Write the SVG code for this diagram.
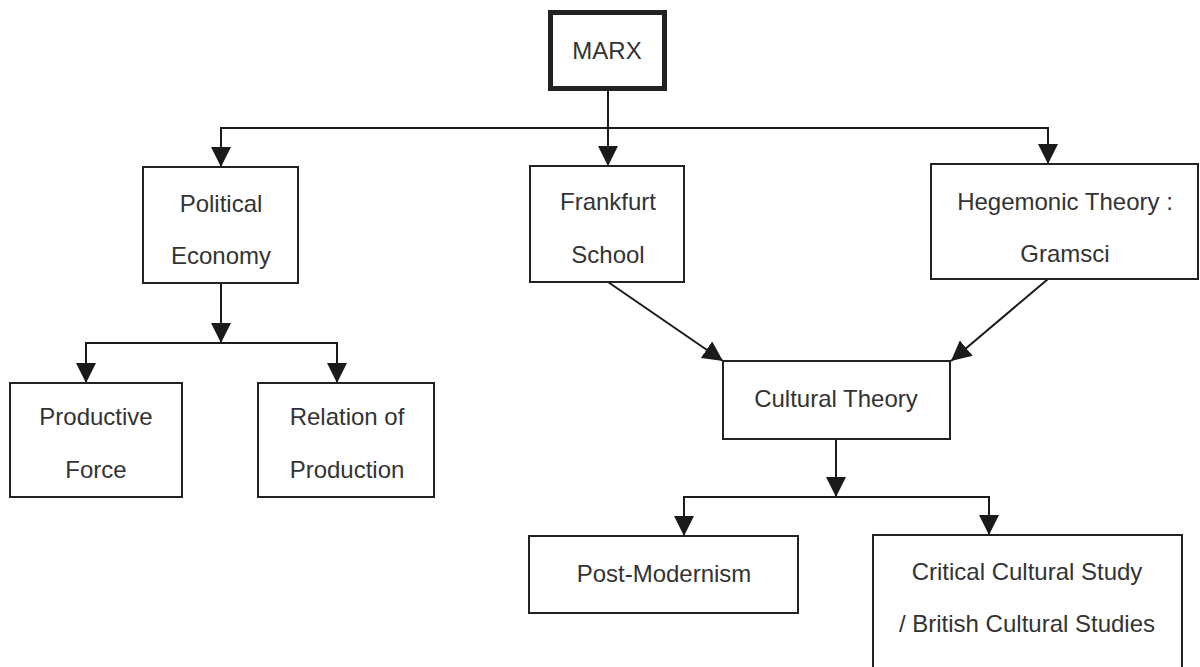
<svg xmlns="http://www.w3.org/2000/svg" width="1200" height="667" viewBox="0 0 1200 667">
  <defs>
    <marker id="arr" markerUnits="userSpaceOnUse" markerWidth="20" markerHeight="20" refX="20" refY="10" orient="auto">
      <path d="M0,0 L20,10 L0,20 z" fill="#1a1a1a"/>
    </marker>
    <style>
      .box { fill: #ffffff; stroke: #222; stroke-width: 2; }
      .thick { stroke-width: 5; }
      .lbl { font-family: "Liberation Sans", Arial, sans-serif; font-size: 24px; fill: #333; text-anchor: middle; }
      .ln { fill: none; stroke: #1a1a1a; stroke-width: 2; }
      .ar { marker-end: url(#arr); }
    </style>
  </defs>
  <rect width="1200" height="667" fill="#ffffff"/>

  <g id="connectors">
    <line class="ln ar" x1="608" y1="91" x2="608" y2="166"/>
    <polyline class="ln" points="221,146 221,128 1048,128 1048,145"/>
    <line class="ln ar" x1="221" y1="140" x2="221" y2="167"/>
    <line class="ln ar" x1="1048" y1="140" x2="1048" y2="164"/>
    <line class="ln ar" x1="221" y1="283" x2="221" y2="343"/>
    <polyline class="ln" points="86,365 86,343 337,343 337,365"/>
    <line class="ln ar" x1="86" y1="355" x2="86" y2="383"/>
    <line class="ln ar" x1="337" y1="355" x2="337" y2="383"/>
    <line class="ln ar" x1="608" y1="282" x2="723" y2="361"/>
    <line class="ln ar" x1="1048" y1="279" x2="951" y2="361"/>
    <line class="ln ar" x1="836" y1="439" x2="836" y2="497"/>
    <polyline class="ln" points="684,518 684,497 989,497 989,518"/>
    <line class="ln ar" x1="684" y1="510" x2="684" y2="536"/>
    <line class="ln ar" x1="989" y1="510" x2="989" y2="535"/>
  </g>

  <g id="marx">
    <rect class="box thick" x="550.5" y="12.5" width="114" height="76"/>
    <text class="lbl" x="607" y="59">MARX</text>
  </g>
  <g id="political-economy">
    <rect class="box" x="143" y="167" width="155" height="116"/>
    <text class="lbl" x="221" y="212">Political</text>
    <text class="lbl" x="221" y="264">Economy</text>
  </g>
  <g id="productive-force">
    <rect class="box" x="10" y="383" width="172" height="114"/>
    <text class="lbl" x="96" y="425">Productive</text>
    <text class="lbl" x="96" y="478">Force</text>
  </g>
  <g id="relation-of-production">
    <rect class="box" x="258" y="383" width="176" height="114"/>
    <text class="lbl" x="347" y="425">Relation of</text>
    <text class="lbl" x="347" y="478">Production</text>
  </g>
  <g id="frankfurt-school">
    <rect class="box" x="530" y="166" width="154" height="116"/>
    <text class="lbl" x="608" y="210">Frankfurt</text>
    <text class="lbl" x="608" y="263">School</text>
  </g>
  <g id="hegemonic-theory">
    <rect class="box" x="931" y="164" width="267" height="115"/>
    <text class="lbl" x="1065" y="210">Hegemonic Theory :</text>
    <text class="lbl" x="1065" y="262">Gramsci</text>
  </g>
  <g id="cultural-theory">
    <rect class="box" x="723" y="361" width="227" height="78"/>
    <text class="lbl" x="836" y="407">Cultural Theory</text>
  </g>
  <g id="post-modernism">
    <rect class="box" x="529" y="536" width="269" height="77"/>
    <text class="lbl" x="664" y="582">Post-Modernism</text>
  </g>
  <g id="critical-cultural-study">
    <rect class="box" x="873" y="535" width="309" height="145"/>
    <text class="lbl" x="1027" y="580">Critical Cultural Study</text>
    <text class="lbl" x="1027" y="632">/ British Cultural Studies</text>
  </g>
</svg>
